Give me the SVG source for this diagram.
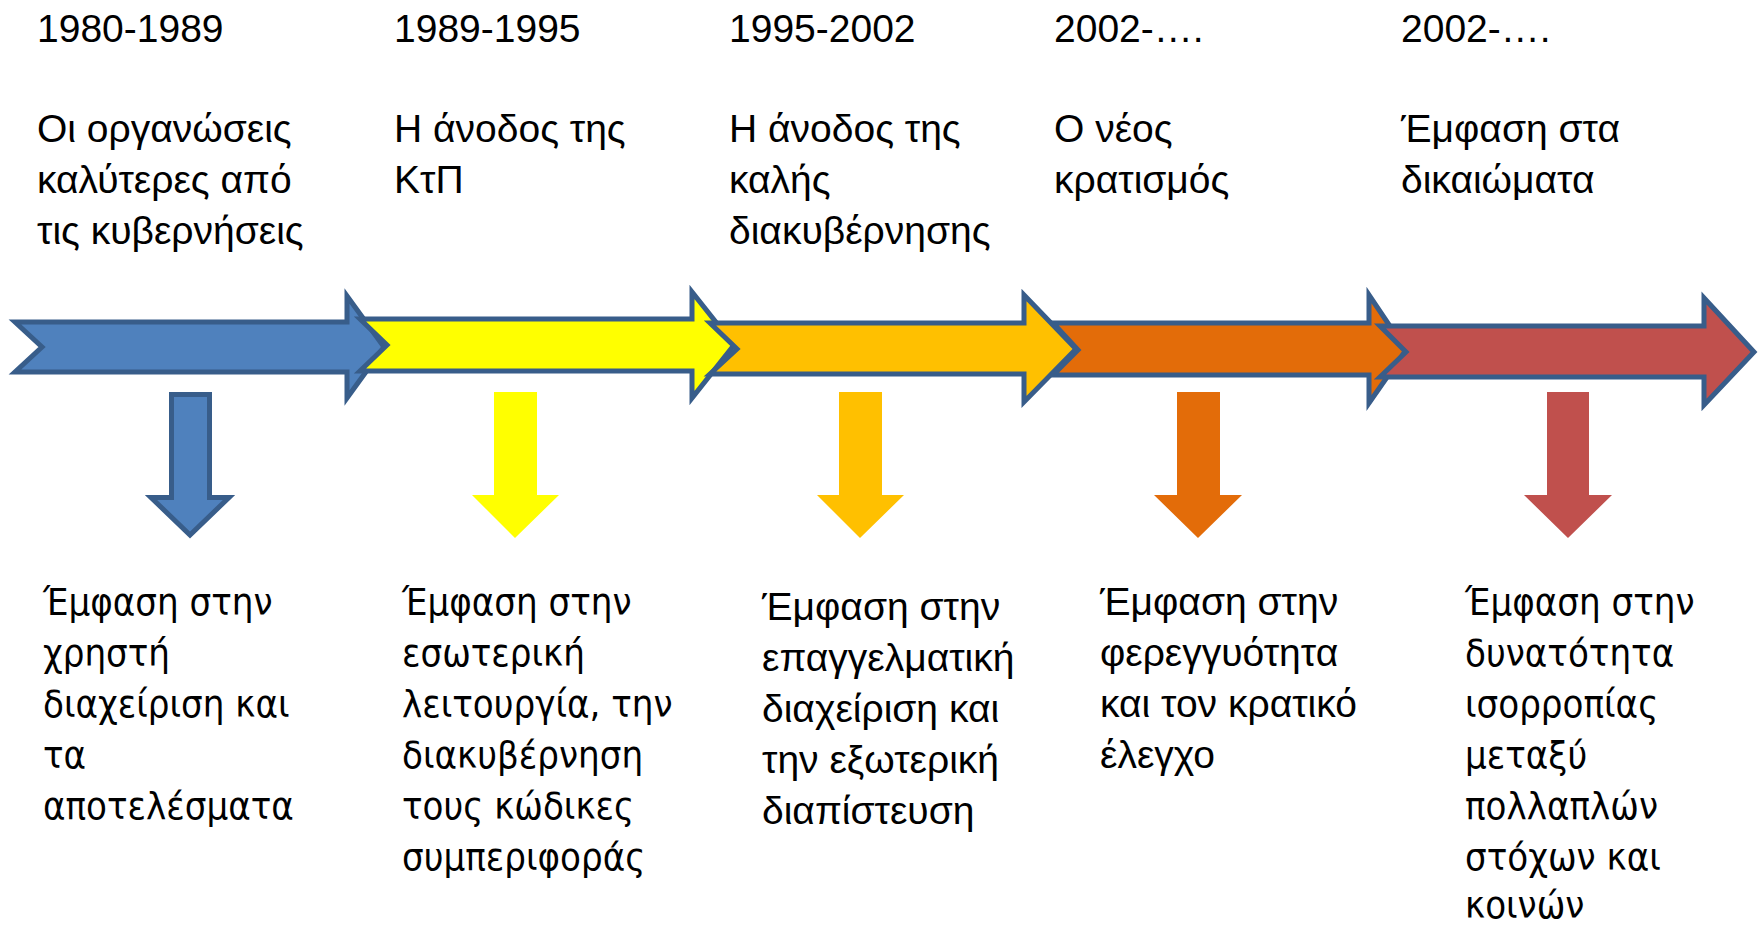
<svg xmlns="http://www.w3.org/2000/svg" width="1764" height="925" viewBox="0 0 1764 925">
  <style>
    .bg { fill: #ffffff; }
    .band { stroke: #385D8A; stroke-width: 5; stroke-linejoin: miter; stroke-miterlimit: 10; }
    .t { font-family: "Liberation Sans", Arial, sans-serif; font-size: 39px; fill: #000000; }
    .d { font-family: "DejaVu Sans Condensed", "DejaVu Sans", sans-serif; font-stretch: condensed; font-size: 38px; fill: #000000; }
    .blue { fill: #4F81BD; }
    .yellow { fill: #FFFF00; }
    .amber { fill: #FFC000; }
    .orange { fill: #E36C09; }
    .red { fill: #C0504D; }
  </style>
  <rect class="bg" x="0" y="0" width="1764" height="925"/>

  <!-- timeline: notched arrows, each later period overlapping the previous head -->
  <g id="connectors">
    <polygon id="band-1980" class="band blue" points="15,322 347,322 347,296 384,347 347,398 347,372 15,372 42,347"/>
    <polygon id="band-1989" class="band yellow" points="360,319 692,319 692,292 734,345 692,398 692,371 360,371 387,345"/>
    <polygon id="band-1995" class="band amber" points="710,323 1024,323 1024,295 1076,349 1024,402 1024,374 710,374 737,349"/>
    <polygon id="band-2002a" class="band orange" points="1053,323 1369,323 1369,295 1406,350 1369,403 1369,375 1053,375 1078,350"/>
    <polygon id="band-2002b" class="band red" points="1380,326 1704,326 1704,298 1754,352 1704,405 1704,377 1380,377 1406,352"/>

    <!-- downward arrows to the emphasis of each period -->
    <polygon id="down-1980" class="band blue" points="171.5,394.5 209.5,394.5 209.5,497.5 229,497.5 190,535 151,497.5 171.5,497.5"/>
    <polygon id="down-1989" class="yellow" points="494,392 537,392 537,495 559,495 515,538 472,495 494,495"/>
    <polygon id="down-1995" class="amber" points="839,392 882,392 882,495 904,495 860,538 817,495 839,495"/>
    <polygon id="down-2002a" class="orange" points="1177,392 1220,392 1220,495 1242,495 1198,538 1154,495 1177,495"/>
    <polygon id="down-2002b" class="red" points="1547,392 1589,392 1589,495 1612,495 1568,538 1524,495 1547,495"/>
  </g>

  <g id="period-1980">
    <text class="t" x="37" y="42">1980-1989</text>
    <text class="t" x="37" y="142">Οι οργανώσεις</text>
    <text class="t" x="37" y="193">καλύτερες από</text>
    <text class="t" x="37" y="244">τις κυβερνήσεις</text>
  </g>
  <g id="period-1989">
    <text class="t" x="394" y="42">1989-1995</text>
    <text class="t" x="394" y="142">Η άνοδος της</text>
    <text class="t" x="394" y="193">ΚτΠ</text>
  </g>
  <g id="period-1995">
    <text class="t" x="729" y="42">1995-2002</text>
    <text class="t" x="729" y="142">Η άνοδος της</text>
    <text class="t" x="729" y="193">καλής</text>
    <text class="t" x="729" y="244">διακυβέρνησης</text>
  </g>
  <g id="period-2002a">
    <text class="t" x="1054" y="42">2002-….</text>
    <text class="t" x="1054" y="142">Ο νέος</text>
    <text class="t" x="1054" y="193">κρατισμός</text>
  </g>
  <g id="period-2002b">
    <text class="t" x="1401" y="42">2002-….</text>
    <text class="t" x="1401" y="142">Έμφαση στα</text>
    <text class="t" x="1401" y="193">δικαιώματα</text>
  </g>

  <g id="emphasis-1980">
    <text class="d" x="43" y="615">Έμφαση στην</text>
    <text class="d" x="43" y="666">χρηστή</text>
    <text class="d" x="43" y="717">διαχείριση και</text>
    <text class="d" x="43" y="768">τα</text>
    <text class="d" x="43" y="819">αποτελέσματα</text>
  </g>
  <g id="emphasis-1989">
    <text class="d" x="402" y="615">Έμφαση στην</text>
    <text class="d" x="402" y="666">εσωτερική</text>
    <text class="d" x="402" y="717">λειτουργία, την</text>
    <text class="d" x="402" y="768">διακυβέρνηση</text>
    <text class="d" x="402" y="819">τους κώδικες</text>
    <text class="d" x="402" y="870">συμπεριφοράς</text>
  </g>
  <g id="emphasis-1995">
    <text class="t" x="762" y="620">Έμφαση στην</text>
    <text class="t" x="762" y="671">επαγγελματική</text>
    <text class="t" x="762" y="722">διαχείριση και</text>
    <text class="t" x="762" y="773">την εξωτερική</text>
    <text class="t" x="762" y="824">διαπίστευση</text>
  </g>
  <g id="emphasis-2002a">
    <text class="t" x="1100" y="615">Έμφαση στην</text>
    <text class="t" x="1100" y="666">φερεγγυότητα</text>
    <text class="t" x="1100" y="717">και τον κρατικό</text>
    <text class="t" x="1100" y="768">έλεγχο</text>
  </g>
  <g id="emphasis-2002b">
    <text class="d" x="1465" y="615">Έμφαση στην</text>
    <text class="d" x="1465" y="666">δυνατότητα</text>
    <text class="d" x="1465" y="717">ισορροπίας</text>
    <text class="d" x="1465" y="768">μεταξύ</text>
    <text class="d" x="1465" y="819">πολλαπλών</text>
    <text class="d" x="1465" y="870">στόχων και</text>
    <text class="d" x="1465" y="918">κοινών</text>
  </g>
</svg>
